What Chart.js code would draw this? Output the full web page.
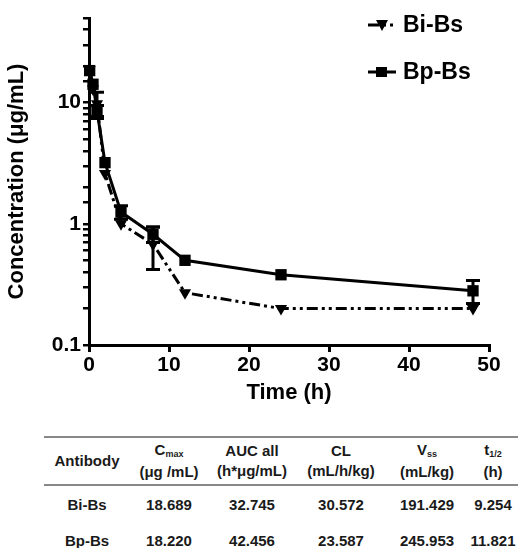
<!DOCTYPE html>
<html>
<head>
<meta charset="utf-8">
<script src="https://cdn.jsdelivr.net/npm/chart.js@4.4.1/dist/chart.umd.min.js"></script>
<style>
    body { margin: 0; background: #fff; font-family: "Liberation Sans", Arial, sans-serif; }
    #wrap { position: relative; width: 518px; height: 548px; overflow: hidden; }
    #chart-box { position: absolute; left: 0; top: 0; width: 518px; height: 410px; }
    table { position: absolute; left: 44px; top: 436px; width: 474px; border-collapse: collapse; table-layout: fixed; font-weight: bold; font-size: 15px; color: #1a1a1a; }
    thead tr { border-top: 2px solid #888; border-bottom: 2px solid #888; }
    th { font-weight: bold; line-height: 20px; padding: 2px 0 2px 0; text-align: center; white-space: nowrap; }
    td { text-align: center; height: 34px; padding: 0; white-space: nowrap; }
    tbody tr:first-child td { height: 37px; }
    sub { font-size: 9px; vertical-align: baseline; position: relative; top: 2px; }
</style>
</head>
<body>
<div id="wrap">
    <div id="chart-box"><canvas id="chart-pk"></canvas></div>
    <table id="pk-table">
        <colgroup>
            <col style="width:86px"><col style="width:78px"><col style="width:88px">
            <col style="width:90px"><col style="width:82px"><col style="width:50px">
        </colgroup>
        <thead><tr id="pk-head"></tr></thead>
        <tbody id="pk-body"></tbody>
    </table>
</div>
<script>
// Tempos de coleta (h)
const times = [0.083, 0.5, 1, 2, 4, 8, 12, 24, 48];

// Bi-Bs: média e desvio
const biMean = [18.7, 13.0, 9.8, 2.6, 1.0, 0.68, 0.27, 0.2, 0.2];
const biErr  = [0, 0, 2.4, 0, 0, 0.26, 0, 0, 0];

// Bp-Bs: média e desvio
const bpMean = [18.4, 14.2, 8.6, 3.2, 1.25, 0.82, 0.5, 0.38, 0.28];
const bpErr  = [0, 0, 0.9, 0, 0.16, 0.12, 0, 0, 0.06];

const seriesNames = ['Bi-Bs', 'Bp-Bs'];
const xTicks = [0, 10, 20, 30, 40, 50];
const yLabels = [0.1, 1, 10];

// Tabela de parâmetros
const tableHeaders = ['Antibody', 'C<sub>max</sub><br>(μg /mL)', 'AUC all<br>(h*μg/mL)', 'CL<br>(mL/h/kg)', 'V<sub>ss</sub><br>(mL/kg)', 't<sub>1/2</sub><br>(h)'];
const cmax = ['18.689', '18.220'];
const aucAll = ['32.745', '42.456'];
const clearance = ['30.572', '23.587'];
const vss = ['191.429', '245.953'];
const halfLife = ['9.254', '11.821'];

document.getElementById('pk-head').innerHTML = tableHeaders.map(h => `<th>${h}</th>`).join('');
document.getElementById('pk-body').innerHTML = seriesNames.map((name, i) =>
    `<tr><td>${name}</td><td>${cmax[i]}</td><td>${aucAll[i]}</td><td>${clearance[i]}</td><td>${vss[i]}</td><td>${halfLife[i]}</td></tr>`
).join('');

const FONT = "'Liberation Sans', Arial, sans-serif";
const toPoints = (arr) => times.map((t, i) => ({ x: t, y: arr[i] }));

// barras de erro desenhadas pelas escalas
const errorBars = {
    id: 'errorBars',
    afterDatasetsDraw(chart) {
        const { ctx, scales: { x, y } } = chart;
        const errs = [biErr, bpErr];
        const means = [biMean, bpMean];
        ctx.save();
        ctx.strokeStyle = '#000';
        ctx.lineWidth = 3;
        errs.forEach((err, d) => {
            times.forEach((t, i) => {
                if (!err[i]) return;
                const px = x.getPixelForValue(t);
                const top = y.getPixelForValue(means[d][i] + err[i]);
                const bot = y.getPixelForValue(Math.max(means[d][i] - err[i], 0.1));
                ctx.beginPath();
                ctx.moveTo(px, top); ctx.lineTo(px, bot);
                ctx.moveTo(px - 7, top); ctx.lineTo(px + 7, top);
                ctx.moveTo(px - 7, bot); ctx.lineTo(px + 7, bot);
                ctx.stroke();
            });
        });
        ctx.restore();
    }
};

// legenda no canto superior direito
const cornerLegend = {
    id: 'cornerLegend',
    afterDraw(chart) {
        const ctx = chart.ctx;
        const rows = [25, 72];
        ctx.save();
        chart.data.datasets.forEach((ds, i) => {
            const yy = rows[i];
            ctx.strokeStyle = '#000';
            ctx.lineWidth = 3;
            ctx.setLineDash(ds.borderDash || []);
            ctx.beginPath();
            ctx.moveTo(368, yy); ctx.lineTo(396, yy);
            ctx.stroke();
            ctx.setLineDash([]);
            ctx.fillStyle = '#000';
            if (ds.pointStyle === 'rect') {
                ctx.fillRect(376, yy - 5, 11, 10);
            } else {
                ctx.beginPath();
                ctx.moveTo(376, yy - 5); ctx.lineTo(388, yy - 5); ctx.lineTo(382, yy + 6);
                ctx.closePath(); ctx.fill();
            }
            ctx.font = `bold 23px ${FONT}`;
            ctx.textBaseline = 'middle';
            ctx.fillText(ds.label, 403, yy + 1);
        });
        ctx.restore();
    }
};

new Chart(document.getElementById('chart-pk'), {
    type: 'line',
    data: {
        datasets: [
            {
                label: seriesNames[0],
                data: toPoints(biMean),
                borderColor: '#000',
                backgroundColor: '#000',
                borderWidth: 3,
                borderDash: [11, 4, 3, 4, 3, 4],
                pointStyle: 'triangle',
                rotation: 180,
                pointRadius: 7,
                pointBorderWidth: 0,
                tension: 0,
                clip: false
            },
            {
                label: seriesNames[1],
                data: toPoints(bpMean),
                borderColor: '#000',
                backgroundColor: '#000',
                borderWidth: 3,
                pointStyle: 'rect',
                pointRadius: 8,
                pointBorderWidth: 0,
                tension: 0,
                clip: false
            }
        ]
    },
    options: {
        responsive: true,
        maintainAspectRatio: false,
        animation: false,
        layout: { padding: { top: 18, right: 29, left: 0, bottom: 0 } },
        plugins: { legend: { display: false }, tooltip: { enabled: false } },
        scales: {
            x: {
                type: 'linear',
                min: 0, max: 50,
                afterFit: (s) => { s.height = 65; },
                afterBuildTicks: (s) => { s.ticks = xTicks.map(v => ({ value: v })); },
                ticks: { color: '#000', font: { family: FONT, size: 21, weight: 'bold' }, padding: 1, maxRotation: 0 },
                grid: { drawOnChartArea: false, color: '#000', lineWidth: 3, tickLength: 7 },
                border: { color: '#000', width: 3 },
                title: { display: true, text: 'Time (h)', color: '#000', font: { family: FONT, size: 22, weight: 'bold' }, padding: { top: 1 } }
            },
            y: {
                type: 'logarithmic',
                min: 0.1, max: 50,
                afterFit: (s) => { s.width = 89; },
                ticks: {
                    autoSkip: false,
                    color: '#000',
                    font: { family: FONT, size: 21, weight: 'bold' },
                    padding: 2,
                    callback: (v) => yLabels.some(l => Math.abs(l - v) < 1e-9) ? String(v) : ''
                },
                grid: { drawOnChartArea: false, color: '#000', lineWidth: 2.5, tickLength: 6 },
                border: { color: '#000', width: 3 },
                title: { display: true, text: 'Concentration (μg/mL)', color: '#000', font: { family: FONT, size: 22, weight: 'bold' }, padding: { bottom: 4 } }
            }
        }
    },
    plugins: [errorBars, cornerLegend]
});
</script>
</body>
</html>
